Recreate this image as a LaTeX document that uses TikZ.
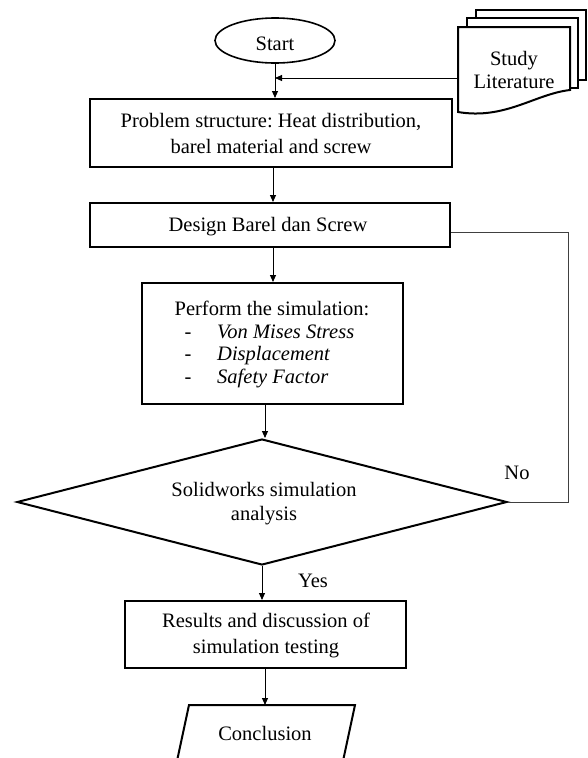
\documentclass[tikz,border=0pt]{standalone}
\usepackage{fontspec}
\setmainfont{Liberation Serif}
\usetikzlibrary{arrows.meta,shapes.geometric}
\frenchspacing
\begin{document}
\begin{tikzpicture}[x=1pt,y=-1pt,
  box/.style={draw, line width=2pt, rectangle, inner sep=0pt},
  conn/.style={line width=0.9pt, -{Triangle[length=7pt,width=6pt]}},
  txt/.style={font=\fontsize{20.5}{26}\selectfont, inner sep=0pt, anchor=base},
  doc/.style={fill=white, draw, line width=2pt},
]
\useasboundingbox (0,0) rectangle (587,758);

% Start
\node[draw, ellipse, line width=1.6pt, minimum width=120pt, minimum height=45pt, inner sep=0pt] (start) at (275,40.5) {};
\node[txt] (startT) at (275,50) {Start};

% Study literature (stacked documents)
\filldraw[doc] (476,10) rectangle (585.5,80);
\filldraw[doc] (467,18) rectangle (578,88);
\filldraw[doc] (458,27) -- (570,27) -- (570,90) .. controls (535,94) and (505,120) .. (458,112) -- cycle;
\node[txt] (lit1) at (514,65) {Study};
\node[txt] (lit2) at (514,88) {Literature};
\coordinate (litW) at (458,78);
\coordinate (join) at (275,78);

% Problem structure
\node[box, minimum width=362pt, minimum height=68pt] (prob) at (271,133) {};
\node[txt] (probT1) at (271,127) {Problem structure: Heat distribution,};
\node[txt] (probT2) at (271,153) {barel material and screw};

% Design
\node[box, minimum width=360pt, minimum height=44pt] (design) at (270,225) {};
\node[txt] (designT) at (268,231) {Design Barel dan Screw};

% Perform simulation
\node[box, minimum width=261pt, minimum height=121pt] (perf) at (272.5,343.5) {};
\node[txt] (perfT) at (272,315) {Perform the simulation:};
\node[txt] (d1) at (188,338) {-};
\node[txt] (d2) at (188,360) {-};
\node[txt] (d3) at (188,383) {-};
\node[txt, anchor=base west] (i1) at (217,338) {\itshape Von Mises Stress};
\node[txt, anchor=base west] (i2) at (217,360) {\itshape Displacement};
\node[txt, anchor=base west] (i3) at (217,383) {\itshape Safety Factor};

% Decision
\node[draw, diamond, line width=2pt, minimum width=490pt, minimum height=126pt, inner sep=0pt, aspect=3.9] (dia) at (262,502) {};
\node[txt] (diaT1) at (264,496) {Solidworks simulation};
\node[txt] (diaT2) at (264,520) {analysis};
\node[txt] (no) at (517,479) {No};
\node[txt] (yes) at (313,587) {Yes};

% Results
\node[box, minimum width=281pt, minimum height=67pt] (res) at (265.5,634.5) {};
\node[txt] (resT1) at (266,627) {Results and discussion of};
\node[txt] (resT2) at (266,653) {simulation testing};

% Conclusion
\filldraw[doc] (189,705) -- (355,705) -- (343,761) -- (177,761) -- cycle;
\node[txt] (concl) at (265,740) {Conclusion};
\coordinate (conclTop) at (265,705);

% Connectors
\draw[conn] (start.south) -- (start.south |- prob.north);
\draw[conn] (litW) -- (join);
\draw[conn] ([xshift=2pt]prob.south) -- ([xshift=2pt]prob.south |- design.north);
\draw[conn] ([xshift=3pt]design.south) -- ([xshift=3pt]design.south |- perf.north);
\draw[conn] ([xshift=3pt]dia.north |- perf.south) -- ([xshift=3pt]dia.north);
\draw[conn] (dia.south) -- (dia.south |- res.north);
\draw[conn] (res.south -| conclTop) -- (conclTop);
\coordinate (loopc) at (568,232);
\draw[line width=0.9pt, black!75] (dia.east) -| (loopc) -- (loopc -| design.east);
\end{tikzpicture}
\end{document}
